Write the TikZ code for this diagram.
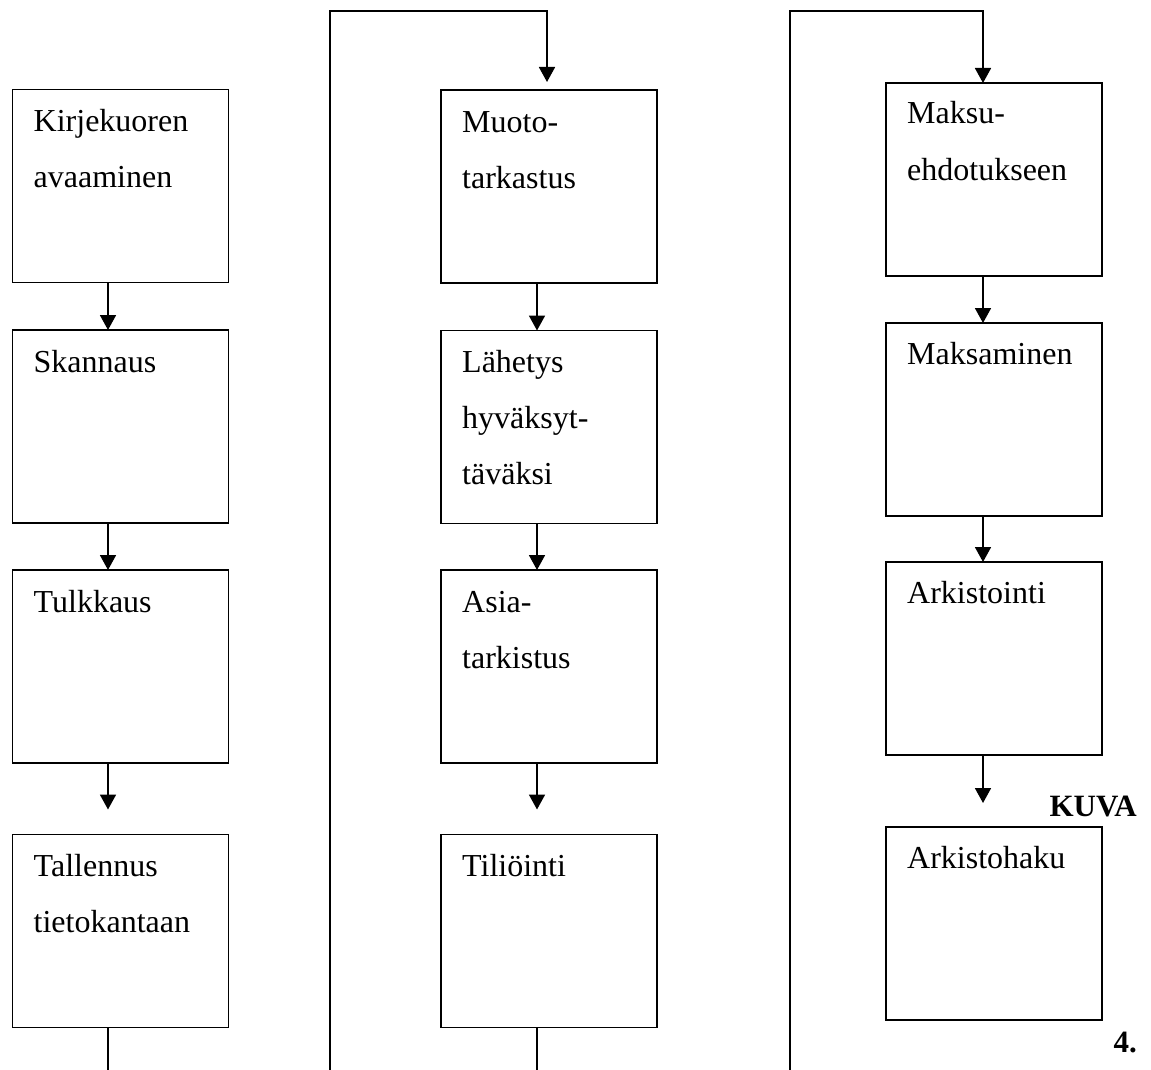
\documentclass[tikz,border=0pt]{standalone}
\usepackage{fontspec}
\setmainfont{Liberation Serif}
\usetikzlibrary{arrows.meta}
\newcommand\stepfont{\fontsize{32}{38}\selectfont}
\newcommand\capfont{\fontsize{31}{37}\selectfont\bfseries}

\begin{document}
\begin{tikzpicture}[x=1pt,y=-1pt,
  stepbox/.style={draw, line width=1.8pt, minimum width=216pt, minimum height=193pt,
                  inner sep=0pt, outer sep=0pt},
  steplabel/.style={anchor=base west, inner sep=0pt, font=\stepfont},
  captext/.style={anchor=base east, inner sep=0pt, font=\capfont},
  flow/.style={line width=1.8pt, -{Triangle[width=16pt,length=15pt]}},
  plain/.style={line width=1.8pt}]

\useasboundingbox (0,0) rectangle (1151,1070);

% ---------- first column ----------
\node (c1b1) [stepbox] at (120.5,186) {};
\node (c1b2) [stepbox] at (120.5,426.5) {};
\node (c1b3) [stepbox] at (120.5,666.5) {};
\node (c1b4) [stepbox] at (120.5,931) {};

\node (t11a) [steplabel] at ([shift={(21pt,-42pt)}]c1b1.north west) {Kirjekuoren};
\node (t11b) [steplabel] at ([shift={(21pt,-98pt)}]c1b1.north west) {avaaminen};
\node (t12a) [steplabel] at ([shift={(21pt,-42pt)}]c1b2.north west) {Skannaus};
\node (t13a) [steplabel] at ([shift={(21pt,-42pt)}]c1b3.north west) {Tulkkaus};
\node (t14a) [steplabel] at ([shift={(21pt,-42pt)}]c1b4.north west) {Tallennus};
\node (t14b) [steplabel] at ([shift={(21pt,-98pt)}]c1b4.north west) {tietokantaan};

\coordinate (ax1) at (108,0);
\coordinate (g1) at ([yshift=25pt]c1b4.north);
\coordinate (e1) at (108,1070);
\draw[flow] (c1b1.south -| ax1) -- (c1b2.north -| ax1);
\draw[flow] (c1b2.south -| ax1) -- (c1b3.north -| ax1);
\draw[flow] (c1b3.south -| ax1) -- (g1 -| ax1);
\draw[plain] (c1b4.south -| ax1) -- (e1);

% ---------- second column ----------
\node (c2b1) [stepbox] at (549,186.5) {};
\node (c2b2) [stepbox] at (549,427) {};
\node (c2b3) [stepbox] at (549,666.5) {};
\node (c2b4) [stepbox] at (549,931) {};

\node (t21a) [steplabel] at ([shift={(21pt,-42pt)}]c2b1.north west) {Muoto-};
\node (t21b) [steplabel] at ([shift={(21pt,-98pt)}]c2b1.north west) {tarkastus};
\node (t22a) [steplabel] at ([shift={(21pt,-42pt)}]c2b2.north west) {Lähetys};
\node (t22b) [steplabel] at ([shift={(21pt,-98pt)}]c2b2.north west) {hyväksyt-};
\node (t22c) [steplabel] at ([shift={(21pt,-154pt)}]c2b2.north west) {täväksi};
\node (t23a) [steplabel] at ([shift={(21pt,-42pt)}]c2b3.north west) {Asia-};
\node (t23b) [steplabel] at ([shift={(21pt,-98pt)}]c2b3.north west) {tarkistus};
\node (t24a) [steplabel] at ([shift={(21pt,-42pt)}]c2b4.north west) {Tiliöinti};

\coordinate (ax2) at (537,0);
\coordinate (ax2top) at (547,0);
\coordinate (l2bot) at (330,1070);
\coordinate (l2top) at (330,11);
\coordinate (g2top) at ([yshift=8pt]c2b1.north);
\coordinate (g2) at ([yshift=25pt]c2b4.north);
\coordinate (e2) at (537,1070);
\draw[flow] (l2bot) -- (l2top) -| (g2top -| ax2top);
\draw[flow] (c2b1.south -| ax2) -- (c2b2.north -| ax2);
\draw[flow] (c2b2.south -| ax2) -- (c2b3.north -| ax2);
\draw[flow] (c2b3.south -| ax2) -- (g2 -| ax2);
\draw[plain] (c2b4.south -| ax2) -- (e2);

% ---------- third column ----------
\node (c3b1) [stepbox] at (994,179.5) {};
\node (c3b2) [stepbox] at (994,419.5) {};
\node (c3b3) [stepbox] at (994,658.5) {};
\node (c3b4) [stepbox] at (994,923.5) {};

\node (t31a) [steplabel] at ([shift={(21pt,-41pt)}]c3b1.north west) {Maksu-};
\node (t31b) [steplabel] at ([shift={(21pt,-97pt)}]c3b1.north west) {ehdotukseen};
\node (t32a) [steplabel] at ([shift={(21pt,-41pt)}]c3b2.north west) {Maksaminen};
\node (t33a) [steplabel] at ([shift={(21pt,-41pt)}]c3b3.north west) {Arkistointi};
\node (t34a) [steplabel] at ([shift={(21pt,-41pt)}]c3b4.north west) {Arkistohaku};

\coordinate (ax3) at (983,0);
\coordinate (l3bot) at (790,1070);
\coordinate (l3top) at (790,11);
\coordinate (g3) at ([yshift=24pt]c3b4.north);
\draw[flow] (l3bot) -- (l3top) -| (c3b1.north -| ax3);
\draw[flow] (c3b1.south -| ax3) -- (c3b2.north -| ax3);
\draw[flow] (c3b2.south -| ax3) -- (c3b3.north -| ax3);
\draw[flow] (c3b3.south -| ax3) -- (g3 -| ax3);

% ---------- figure caption ----------
\node (kuva) [captext] at (1137,816) {KUVA};
\node (kuvanum) [captext] at (1137,1052) {4.};
\end{tikzpicture}
\end{document}
